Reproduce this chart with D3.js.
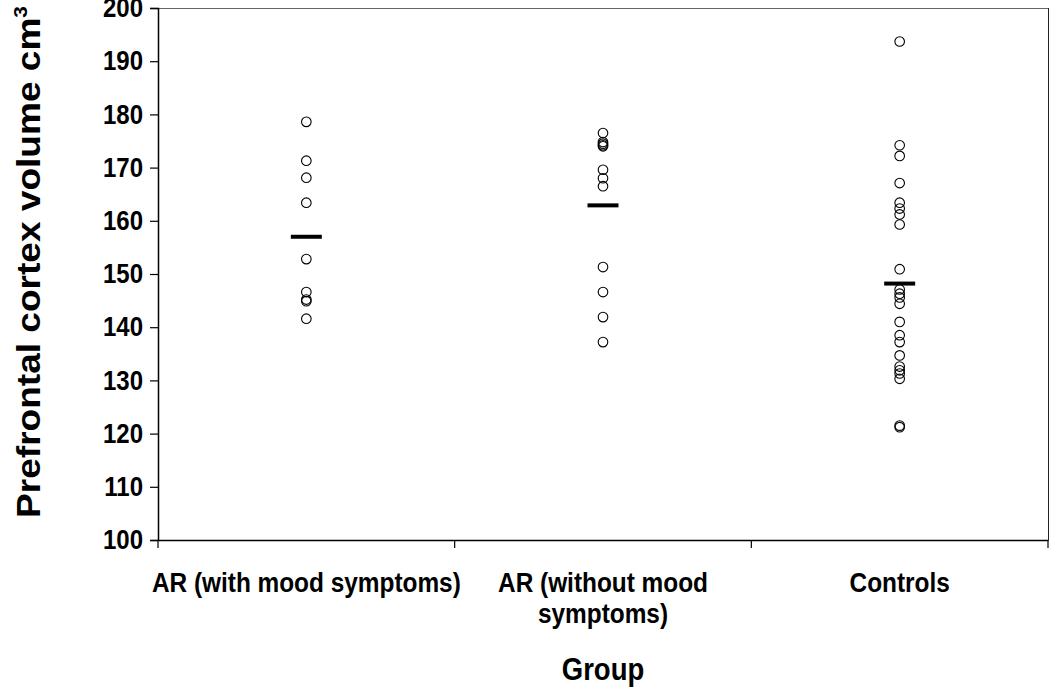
<!DOCTYPE html>
<html>
<head>
<meta charset="utf-8">
<script src="https://cdn.jsdelivr.net/npm/d3@7"></script>
<style>
  html, body { margin: 0; padding: 0; background: #fff; }
  svg { display: block; }
  text { font-family: "Liberation Sans", Arial, sans-serif; font-weight: bold; fill: #000; }
</style>
</head>
<body>
<svg id="chart" width="1050" height="687"></svg>
<script>
// ---- data ----
const categories = ["AR (with mood symptoms)", "AR (without mood symptoms)", "Controls"];
const categoryLabelLines = [["AR (with mood symptoms)"], ["AR (without mood", "symptoms)"], ["Controls"]];
const arWithMood = [178.6, 171.3, 168.1, 163.4, 152.8, 146.6, 145.2, 144.9, 141.6];
const arWithoutMood = [176.5, 174.8, 174.5, 174.2, 174.0, 169.6, 168.0, 166.5, 151.3, 146.6, 141.9, 137.2];
const controls = [193.7, 174.2, 172.2, 167.1, 163.4, 162.3, 161.2, 159.3, 150.9, 147.1, 146.3, 145.6,
                  144.4, 141.0, 138.5, 137.2, 134.7, 132.6, 131.9, 131.3, 130.3, 121.5, 121.2];
const groupMeans = [157.0, 162.9, 148.2];
const yTicks = [100, 110, 120, 130, 140, 150, 160, 170, 180, 190, 200];
const yDomain = [100, 200];
const yTitle = "Prefrontal cortex volume cm";
const yTitleSup = "3";
const xTitle = "Group";

const seriesValues = [arWithMood, arWithoutMood, controls];

// ---- layout ----
const S = 1.13; // vertical stretch of the lettering in the reference
const svg = d3.select("#chart");
const plot = { left: 158, right: 1048, top: 8, bottom: 540 };

const x = d3.scaleBand().domain(categories).range([plot.left, plot.right]).padding(0);
const y = d3.scaleLinear().domain(yDomain).range([plot.bottom, plot.top]);

// plot frame (top & right)
svg.append("line").attr("x1", plot.left).attr("x2", plot.right)
  .attr("y1", plot.top + 0.5).attr("y2", plot.top + 0.5)
  .attr("stroke", "#666").attr("stroke-width", 1);
svg.append("line").attr("x1", plot.right + 0.5).attr("x2", plot.right + 0.5)
  .attr("y1", plot.top).attr("y2", plot.bottom)
  .attr("stroke", "#222").attr("stroke-width", 1);

// y axis
const yAxis = svg.append("g")
  .attr("transform", `translate(${plot.left},0)`)
  .call(d3.axisLeft(y).tickValues(yTicks).tickSize(8).tickPadding(7).tickFormat(d3.format("d")));
yAxis.select(".domain").attr("stroke", "#000").attr("stroke-width", 1.5);
yAxis.selectAll(".tick line").attr("stroke", "#000").attr("stroke-width", 1.2);
yAxis.selectAll(".tick text")
  .style("font-family", '"Liberation Sans", Arial, sans-serif')
  .style("font-weight", "bold").style("font-size", "24px").attr("fill", "#000")
  .attr("transform", `scale(1,${S})`);

// x axis
const xAxis = svg.append("g")
  .attr("transform", `translate(0,${plot.bottom})`)
  .call(d3.axisBottom(x).tickSize(0).tickFormat(""));
xAxis.select(".domain").attr("stroke", "#000").attr("stroke-width", 1.5);
// boundary ticks between categories
const boundaries = [plot.left].concat(categories.map(c => x(c) + x.bandwidth()));
xAxis.selectAll(".bound").data(boundaries).enter().append("line")
  .attr("class", "bound")
  .attr("x1", d => d).attr("x2", d => d).attr("y1", 0).attr("y2", 8)
  .attr("stroke", "#000").attr("stroke-width", 1.2);

// category labels
categories.forEach((c, i) => {
  const cx = x(c) + x.bandwidth() / 2;
  const t = svg.append("text")
    .attr("transform", `translate(${cx},592) scale(1,${S})`)
    .attr("text-anchor", "middle")
    .style("font-size", "24.4px");
  categoryLabelLines[i].forEach((line, j) => {
    t.append("tspan").attr("x", 0).attr("y", j * 27.5).text(line);
  });
});

// points
seriesValues.forEach((vals, i) => {
  const cx = x(categories[i]) + x.bandwidth() / 2;
  svg.append("g").selectAll("circle").data(vals).enter().append("circle")
    .attr("cx", cx).attr("cy", d => y(d)).attr("r", 4.8)
    .attr("fill", "none").attr("stroke", "#000").attr("stroke-width", 1.1);
});

// mean markers
svg.append("g").selectAll("line").data(groupMeans).enter().append("line")
  .attr("x1", (d, i) => x(categories[i]) + x.bandwidth() / 2 - 15.5)
  .attr("x2", (d, i) => x(categories[i]) + x.bandwidth() / 2 + 15.5)
  .attr("y1", d => y(d)).attr("y2", d => y(d))
  .attr("stroke", "#000").attr("stroke-width", 4);

// axis titles
const yt = svg.append("text")
  .attr("transform", `translate(40,262) rotate(-90) scale(1.09,1)`)
  .attr("text-anchor", "middle")
  .style("font-size", "34px");
yt.append("tspan").text(yTitle);
yt.append("tspan").attr("dy", -13).style("font-size", "19px").text(yTitleSup);

svg.append("text")
  .attr("transform", `translate(${x(categories[1]) + x.bandwidth() / 2},680) scale(1,${S})`)
  .attr("text-anchor", "middle")
  .style("font-size", "27.5px")
  .text(xTitle);
</script>
</body>
</html>
